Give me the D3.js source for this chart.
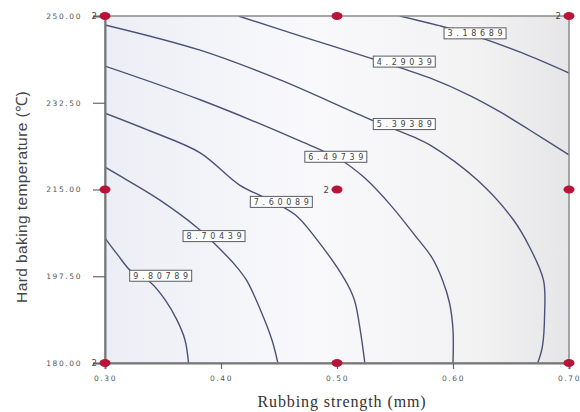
<!DOCTYPE html>
<html>
<head>
<meta charset="utf-8">
<script src="https://cdn.jsdelivr.net/npm/d3@7"></script>
<style>
  body { margin: 0; background: #fff; }
</style>
</head>
<body>
<svg width="580" height="412"></svg>
<script>
// contour levels
var levels = [3.18689, 4.29039, 5.39389, 6.49739, 7.60089, 8.70439, 9.80789]

// each contour as [rubbing strength, temperature] points
var contour1 = [[0.554,250],[0.589,248.0],[0.619,246.0],[0.658,242.7],[0.70,238.5]]
var contour2 = [[0.415,250],[0.468,246.0],[0.526,241.7],[0.580,237.5],[0.615,233.9],[0.641,230.6],[0.666,227.0],[0.70,222.0]]
var contour3 = [[0.30,248.2],[0.382,243.1],[0.451,237.1],[0.526,229.4],[0.566,225.6],[0.580,224.0],[0.621,216.9],[0.652,208.9],[0.666,203.4],[0.678,196.7],[0.679,190.1],[0.677,183.2],[0.673,180]]
var contour4 = [[0.30,239.9],[0.382,233.1],[0.466,225.0],[0.503,221.0],[0.524,217.3],[0.546,211.9],[0.567,205.8],[0.582,201.2],[0.591,196.7],[0.597,192.1],[0.60,186.7],[0.60,180]]
var contour5 = [[0.30,230.4],[0.339,226.8],[0.382,222.4],[0.416,215.9],[0.442,212.9],[0.464,209.9],[0.481,205.4],[0.507,196.7],[0.515,192.7],[0.520,186.7],[0.524,180]]
var contour6 = [[0.30,219.5],[0.319,216.9],[0.347,212.9],[0.379,207.4],[0.393,204.4],[0.412,199.8],[0.422,196.7],[0.434,190.7],[0.444,184.6],[0.449,180]]
var contour7 = [[0.30,205.2],[0.311,201.8],[0.323,198.4],[0.339,196.3],[0.352,192.7],[0.362,188.7],[0.369,184.6],[0.372,180]]
var contours = [contour1, contour2, contour3, contour4, contour5, contour6, contour7]

// where each level label sits on its line
var labelPoints = [[0.619,246.5],[0.558,240.8],[0.558,228.2],[0.499,221.6],[0.452,212.5],[0.394,205.6],[0.348,197.6]]

// design points and their replicate counts
var designX = [0.30, 0.30, 0.30, 0.50, 0.50, 0.50, 0.70, 0.70, 0.70]
var designY = [180, 215, 250, 180, 215, 250, 180, 215, 250]
var designN = [2, 1, 2, 1, 2, 1, 1, 1, 2]

var xTicks = [0.30, 0.40, 0.50, 0.60, 0.70]
var yTicks = [180.00, 197.50, 215.00, 232.50, 250.00]

var svg = d3.select('svg')
var pLeft = 105, pRight = 569, pTop = 16, pBottom = 363

var x = d3.scaleLinear().domain([0.30, 0.70]).range([pLeft, pRight])
var y = d3.scaleLinear().domain([180, 250]).range([pBottom, pTop])

// faint shaded background
var defs = svg.append('defs')
var grad = defs.append('linearGradient').attr('id', 'bg')
grad.append('stop').attr('offset', '0%').attr('stop-color', '#eceef5')
grad.append('stop').attr('offset', '45%').attr('stop-color', '#f9f9fc')
grad.append('stop').attr('offset', '80%').attr('stop-color', '#f2f2f3')
grad.append('stop').attr('offset', '100%').attr('stop-color', '#e6e6e8')
defs.append('clipPath').attr('id', 'plot')
    .append('rect')
    .attr('x', pLeft).attr('y', pTop)
    .attr('width', pRight - pLeft).attr('height', pBottom - pTop)

svg.append('rect')
    .attr('x', pLeft).attr('y', pTop)
    .attr('width', pRight - pLeft).attr('height', pBottom - pTop)
    .attr('fill', 'url(#bg)')

var line = d3.line()
    .x(function(d) { return x(d[0]) })
    .y(function(d) { return y(d[1]) })
    .curve(d3.curveCatmullRom.alpha(0.5))

svg.append('g')
    .attr('clip-path', 'url(#plot)')
    .selectAll('path')
    .data(contours)
    .enter()
    .append('path')
    .attr('d', line)
    .attr('fill', 'none')
    .attr('stroke', '#4b5278')
    .attr('stroke-width', 1.4)

// frame
svg.append('rect')
    .attr('x', pLeft).attr('y', pTop)
    .attr('width', pRight - pLeft).attr('height', pBottom - pTop)
    .attr('fill', 'none')
    .attr('stroke', '#8a8a8a')
    .attr('stroke-width', 1.5)

// axes
var xAxis = d3.axisBottom(x).tickValues(xTicks).tickFormat(d3.format('.2f')).tickSize(6).tickPadding(7)
var yAxis = d3.axisLeft(y).tickValues(yTicks).tickFormat(d3.format('.2f')).tickSize(12).tickPadding(11)

var gx = svg.append('g').attr('transform', 'translate(0,' + pBottom + ')').call(xAxis)
var gy = svg.append('g').attr('transform', 'translate(' + pLeft + ',0)').call(yAxis)

;[gx, gy].forEach(function(g) {
    g.select('.domain').attr('stroke', '#777').attr('stroke-width', 2)
    g.selectAll('.tick line').attr('stroke', '#666').attr('stroke-width', 1.2)
    g.selectAll('.tick text')
        .attr('fill', '#555')
        .style('font-family', 'DejaVu Sans, sans-serif')
        .style('font-size', '7.5px')
        .style('letter-spacing', '1.6px')
})

// level labels
var labels = svg.append('g')
    .selectAll('g')
    .data(levels)
    .enter()
    .append('g')
    .attr('transform', function(d, i) {
        return 'translate(' + x(labelPoints[i][0]) + ',' + y(labelPoints[i][1]) + ')'
    })

labels.append('rect')
    .attr('x', -31).attr('y', -5.5)
    .attr('width', 62).attr('height', 11)
    .attr('fill', '#fff')
    .attr('stroke', '#5a5a66')
    .attr('stroke-width', 1)

labels.append('text')
    .attr('text-anchor', 'middle')
    .attr('y', 3)
    .attr('textLength', 55)
    .attr('lengthAdjust', 'spacing')
    .attr('fill', '#444')
    .style('font-family', 'DejaVu Sans, sans-serif')
    .style('font-size', '8px')
    .text(function(d) { return d.toFixed(5) })

// design points
svg.append('g')
    .selectAll('ellipse')
    .data(designX)
    .enter()
    .append('ellipse')
    .attr('cx', function(d) { return x(d) })
    .attr('cy', function(d, i) { return y(designY[i]) })
    .attr('rx', 5.5)
    .attr('ry', 4)
    .attr('fill', '#b8143a')

var reps = designX.map(function(d, i) { return {x: d, y: designY[i], n: designN[i]} })
    .filter(function(d) { return d.n > 1 })

svg.append('g')
    .selectAll('text')
    .data(reps)
    .enter()
    .append('text')
    .attr('x', function(d) { return x(d.x) - 8 })
    .attr('y', function(d) { return y(d.y) + 3 })
    .attr('text-anchor', 'end')
    .attr('fill', '#444')
    .style('font-family', 'DejaVu Sans, sans-serif')
    .style('font-size', '8.5px')
    .text(function(d) { return d.n })

// axis titles
svg.append('text')
    .attr('x', 342)
    .attr('y', 407)
    .attr('text-anchor', 'middle')
    .attr('fill', '#333')
    .style('font-family', 'Liberation Serif, serif')
    .style('font-size', '16px')
    .style('letter-spacing', '0.9px')
    .text('Rubbing strength (mm)')

svg.append('text')
    .attr('transform', 'translate(27,197) rotate(-90)')
    .attr('text-anchor', 'middle')
    .attr('fill', '#444')
    .style('font-family', 'Liberation Sans, sans-serif')
    .style('font-size', '15.5px')
    .style('letter-spacing', '0.4px')
    .text('Hard baking temperature (℃)')
</script>
</body>
</html>
